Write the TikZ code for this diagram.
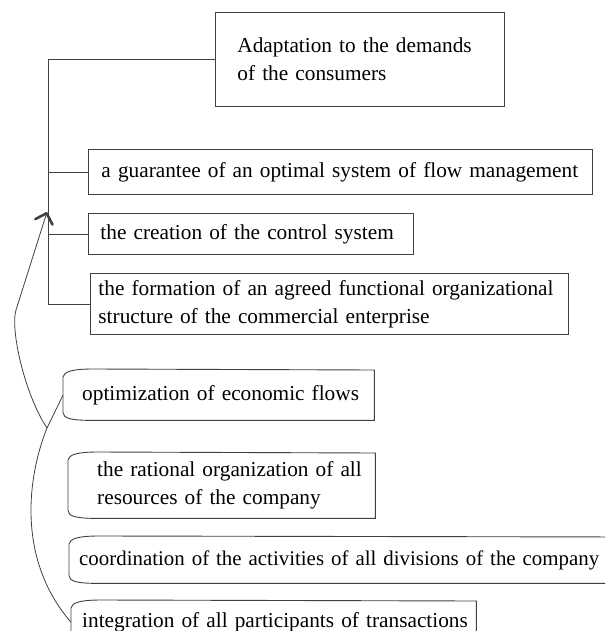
\documentclass[tikz,border=0pt]{standalone}
\usepackage{fontspec}
\setmainfont{Liberation Serif}
\usetikzlibrary{arrows.meta}
\definecolor{frameline}{RGB}{64, 64, 64}
\newcommand{\boxfont}{\fontsize{21.3}{28}\selectfont}
\newcommand{\widefont}{\fontsize{20.9}{28}\selectfont}

\tikzset{
    goalbox/.style   = {draw=frameline, line width=0.9pt, anchor=north west, align=left, inner ysep=0pt},
    taskbox/.style   = {anchor=north west, align=left, inner ysep=0pt},
    link/.style      = {draw=frameline, line width=0.8pt},
    every node/.style= {font=\boxfont}
}
\newcommand{\scrollframe}[1]{%
    \draw[frameline, line width=0.9pt]
        ([xshift=30pt, yshift=1pt]#1.north west) -- (#1.north east) -- (#1.south east)
        -- ([xshift=30pt]#1.south west)
        .. controls ([xshift=8pt]#1.south west) and ([xshift=0pt, yshift=2pt]#1.south west) .. ([yshift=8pt]#1.south west)
        -- ([yshift=-7pt]#1.north west)
        .. controls ([xshift=1pt, yshift=-2pt]#1.north west) and ([xshift=8pt, yshift=1pt]#1.north west) .. cycle;}

\begin{document}
\begin{tikzpicture}[x=1pt, y=-1pt]
            \useasboundingbox (0,0) rectangle (605,631);
            \clip              (0,0) rectangle (605,631);
            \node[goalbox, minimum width=289, minimum height=94, inner xsep=22, text width=245] (adapt) at (215, 12) {Adaptation to the demands\\of the consumers};
            \node[goalbox, minimum width=504, minimum height=45, inner xsep=13, text width=478] (guar)  at ( 88,149) {\mbox{a guarantee of an optimal system of flow management}};
            \node[goalbox, minimum width=325, minimum height=41, inner xsep=12, text width=301] (ctrl)  at ( 88,213) {\mbox{the creation of the control system}};
            \node[goalbox, minimum width=478, minimum height=61, inner xsep= 8, text width=462] (form)  at ( 90,273) {\mbox{the formation of an agreed functional organizational}\\structure of the commercial enterprise};
            \node[taskbox, minimum width=311, minimum height=50, inner xsep=19, text width=273] (optim) at ( 63,370) {\mbox{optimization of economic flows}};
            \node[taskbox, minimum width=307, minimum height=65, inner xsep=29, text width=249] (ratio) at ( 68,453) {\mbox{the rational organization of all}\\resources of the company};
            \node[taskbox, minimum width=560, minimum height=46, inner xsep=10, text width=540, font=\widefont] (coord) at ( 69,537) {\mbox{coordination of the activities of all divisions of the company}};
            \node[taskbox, minimum width=405, minimum height=42, inner xsep=11, text width=383] (integ) at ( 71,601) {\mbox{integration of all participants of transactions}};
            \scrollframe{optim}
            \scrollframe{ratio}
            \scrollframe{coord}
            \scrollframe{integ}
            \coordinate (trunk) at (48,0);
            \coordinate (fork)  at (47,428);
            \coordinate (tip)   at (47,212);
            \draw[link] (adapt.west) -- (adapt.west -| trunk) -- (form.west -| trunk) -- (form.west);
            \draw[link] (guar.west)  -- (guar.west -| trunk);
            \draw[link] (ctrl.west)  -- (ctrl.west -| trunk);
            \draw[link, -{Straight Barb[length=9pt, width=18pt, line width=2.6pt, round]}] (fork) .. controls (25,395) and (10,330) .. (16,310) -- (tip);
            \draw[link] (optim.west) -- (fork) .. controls (27,478) and (17,560) .. (integ.west);
        \end{tikzpicture}
\end{document}
